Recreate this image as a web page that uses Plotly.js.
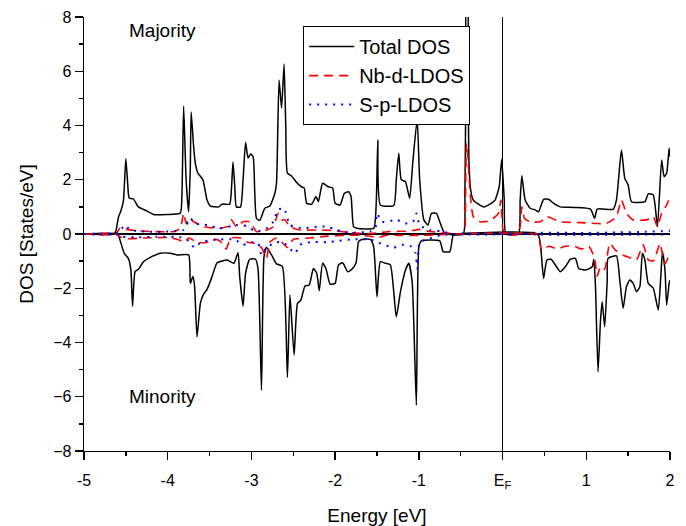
<!DOCTYPE html>
<html>
<head>
<meta charset="utf-8">
<script src="https://cdn.plot.ly/plotly-3.0.1.min.js"></script>
<style>html,body{margin:0;padding:0;background:#fff}#chart{width:686px;height:526px}</style>
</head>
<body>
<div id="chart"></div>
<script>
// Total DOS, majority spin (energy eV, states/eV)
const totUpE = [-5,-4.65,-4.62,-4.59,-4.56,-4.53,-4.50,-4.47,-4.46,-4.41,-4.35,-4.25,-4.17,-4.01,-3.85,-3.83,-3.81,-3.78,-3.75,-3.73,-3.72,-3.69,-3.67,-3.64,-3.58,-3.53,-3.49,-3.39,-3.35,-3.26,-3.24,-3.22,-3.20,-3.18,-3.13,-3.10,-3.07,-3.04,-3.01,-2.98,-2.96,-2.94,-2.90,-2.84,-2.78,-2.72,-2.70,-2.67,-2.64,-2.61,-2.59,-2.57,-2.52,-2.46,-2.40,-2.37,-2.34,-2.28,-2.23,-2.20,-2.15,-2.08,-2.03,-2.00,-1.94,-1.89,-1.84,-1.81,-1.78,-1.74,-1.54,-1.51,-1.49,-1.46,-1.30,-1.27,-1.24,-1.21,-1.16,-1.11,-1.07,-1.02,-0.99,-0.94,-0.89,-0.85,-0.79,-0.75,-0.69,-0.47,-0.45,-0.44,-0.43,-0.42,-0.41,-0.40,-0.38,-0.35,-0.23,-0.15,-0.09,-0.04,-0.01,0.02,0.04,0.19,0.21,0.23,0.27,0.33,0.39,0.43,0.49,0.55,0.61,0.69,0.85,1.05,1.10,1.13,1.32,1.36,1.42,1.46,1.50,1.54,1.70,1.74,1.80,1.85,1.90,1.93,1.96,1.99,2.00];
const totUp  = [0,0,0.1,0.6,0.85,1.2,2.77,1.5,1.33,1.29,1.0,0.85,0.72,0.72,0.77,1.5,4.72,2.0,0.82,2.5,4.5,3.2,2.6,2.25,2.0,1.25,1.03,1.0,1.1,1.1,1.6,2.65,1.8,1.0,1.0,2.0,3.38,2.8,2.95,2.85,1.5,0.58,0.5,0.95,1.03,1.5,1.9,5.68,4.64,6.27,4.0,2.24,2.14,1.9,1.74,1.7,1.13,1.1,1.38,1.2,1.87,1.74,1.7,1.13,1.07,1.5,1.56,1.38,0.27,0.21,0.21,1.07,3.47,1.07,1.05,2.0,2.98,2.0,1.93,1.32,2.73,4.23,2.0,0.52,0.33,0.76,0.76,0.45,0.02,0,1.5,5.0,9.0,9.0,5.0,2.5,1.6,1.25,1.0,1.1,1.25,1.75,2.76,1.25,0,0,1.25,2.15,1.25,0.95,0.89,0.82,1.28,1.28,1.13,1.0,0.98,0.92,0.58,0.92,0.91,1.25,3.1,2.05,1.81,1.19,1.19,1.48,1.44,0.27,2.73,2.11,2.24,3.16,2.85];

// Total DOS, minority spin
const totDnE = [-5,-4.60,-4.57,-4.52,-4.47,-4.44,-4.42,-4.39,-4.35,-4.29,-4.23,-4.09,-3.97,-3.89,-3.75,-3.73,-3.70,-3.68,-3.65,-3.61,-3.57,-3.53,-3.47,-3.41,-3.29,-3.21,-3.16,-3.14,-3.10,-3.07,-3.02,-2.95,-2.92,-2.88,-2.85,-2.82,-2.76,-2.70,-2.63,-2.57,-2.54,-2.49,-2.45,-2.41,-2.36,-2.31,-2.26,-2.22,-2.19,-2.15,-2.11,-2.06,-2.00,-1.96,-1.91,-1.85,-1.80,-1.75,-1.72,-1.68,-1.58,-1.54,-1.50,-1.46,-1.40,-1.34,-1.27,-1.22,-1.16,-1.12,-1.08,-1.03,-1.00,-0.97,-0.75,-0.71,-0.63,-0.59,-0.55,0.42,0.46,0.49,0.53,0.58,0.63,0.69,0.75,0.81,0.87,0.91,0.99,1.07,1.09,1.11,1.14,1.17,1.19,1.22,1.25,1.26,1.36,1.40,1.44,1.48,1.52,1.56,1.60,1.64,1.67,1.70,1.74,1.80,1.86,1.89,1.91,1.94,1.96,1.99,2.00];
const totDn  = [0,0,-0.22,-0.71,-0.9,-1.33,-2.66,-1.39,-1.3,-1.02,-0.9,-0.71,-0.71,-0.77,-0.77,-1.82,-1.57,-1.88,-3.79,-2.56,-2.21,-2.04,-1.57,-1.06,-0.96,-1.08,-0.69,-1.57,-2.66,-1.45,-0.93,-0.93,-1.33,-5.76,-0.84,-0.49,-0.77,-1.1,-1.2,-5.29,-2.25,-4.46,-2.56,-2.44,-1.92,-1.88,-1.27,-1.45,-2.09,-1.08,-1.27,-1.85,-1.82,-1.14,-1.06,-1.39,-1.3,-1.06,-0.28,-0.2,-0.2,-0.47,-2.31,-1.02,-1.08,-1.14,-3.05,-2.13,-1.33,-1.08,-1.76,-6.31,-0.47,-0.25,-0.25,-0.65,-0.65,-0.04,0,0,-0.65,-1.64,-0.96,-0.93,-1.14,-1.39,-1.21,-0.93,-0.9,-1.27,-1.33,-1.21,-0.93,-1.94,-5.08,-3.17,-2.5,-3.42,-1.7,-0.9,-0.81,-1.7,-2.74,-1.94,-1.7,-1.82,-2.13,-1.94,-0.71,-0.96,-1.82,-2.0,-2.8,-1.57,-0.65,-1.33,-2.62,-1.82,-1.7];

// Nb-d LDOS, majority
const nbUpE = [-5,-4.62,-4.57,-4.49,-4.37,-4.17,-3.93,-3.85,-3.81,-3.78,-3.74,-3.69,-3.57,-3.41,-3.29,-3.24,-3.18,-3.10,-3.02,-2.94,-2.82,-2.74,-2.68,-2.64,-2.60,-2.54,-2.42,-2.18,-2.00,-1.82,-1.58,-1.34,-1.10,-0.99,-0.87,-0.71,-0.50,-0.46,-0.44,-0.43,-0.40,-0.38,-0.35,-0.27,-0.15,-0.05,-0.02,0.00,0.02,0.19,0.23,0.26,0.33,0.45,0.53,0.69,0.93,1.24,1.36,1.42,1.48,1.56,1.72,1.80,1.85,1.90,1.96,2.00];
const nbUp  = [0,0,0.22,0.17,0.12,0.09,0.09,0.21,0.76,0.39,0.58,0.45,0.27,0.21,0.27,0.52,0.27,0.45,0.45,0.09,0.15,0.27,0.76,0.52,0.52,0.27,0.15,0.15,0.12,0.05,0.02,0.09,0.11,0.17,0.09,0.05,0,0,2.0,3.35,2.11,1.25,0.64,0.45,0.49,0.76,1.25,0.27,0,0,1.0,0.58,0.45,0.45,0.64,0.45,0.42,0.39,0.64,1.25,0.76,0.52,0.52,0.64,0.27,0.76,1.07,1.38];

// Nb-d LDOS, minority
const nbDnE = [-5,-4.62,-4.57,-4.50,-4.30,-4.00,-3.88,-3.80,-3.75,-3.65,-3.55,-3.45,-3.38,-3.30,-3.25,-3.12,-3.05,-2.95,-2.88,-2.82,-2.78,-2.70,-2.62,-2.57,-2.50,-2.30,-2.10,-1.90,-1.70,-1.55,-1.50,-1.40,-1.20,-1.00,-0.75,-0.60,0.40,0.43,0.47,0.55,0.65,0.75,0.85,0.95,1.03,1.10,1.13,1.17,1.22,1.28,1.35,1.42,1.50,1.60,1.68,1.74,1.80,1.85,1.88,1.94,2.00];
const nbDn  = [0,0,-0.1,-0.17,-0.15,-0.13,-0.2,-0.3,-0.15,-0.3,-0.32,-0.2,-0.25,-0.55,-0.15,-0.15,-0.3,-0.35,-0.5,-0.9,-0.3,-0.15,-0.35,-0.5,-0.2,-0.15,-0.08,-0.05,-0.05,-0.1,-0.15,-0.05,-0.05,-0.05,-0.03,0,0,-0.1,-0.6,-0.45,-0.55,-0.45,-0.45,-0.55,-0.45,-0.9,-1.55,-1.2,-1.3,-0.35,-0.6,-0.75,-0.85,-0.95,-0.4,-0.95,-1.0,-0.6,-0.35,-1.1,-0.7];

// S-p LDOS, majority
const spUpE = [-5,-4.62,-4.55,-4.51,-4.45,-4.25,-4.00,-3.81,-3.73,-3.67,-3.53,-3.38,-3.18,-3.10,-3.05,-2.94,-2.82,-2.74,-2.68,-2.61,-2.54,-2.38,-2.22,-2.10,-1.98,-1.82,-1.58,-1.52,-1.50,-1.44,-1.26,-1.18,-1.07,-1.03,-0.99,-0.87,-0.71,-0.60,0.20,0.30,1.00,1.40,1.70,2.00];
const spUp  = [0,0,0.2,0.33,0.15,0.09,0.09,0.15,0.58,0.39,0.33,0.21,0.33,0.33,0.27,0.09,0.21,0.45,0.89,0.95,0.33,0.21,0.27,0.27,0.15,0.05,0.09,0.2,0.76,0.45,0.52,0.39,0.45,0.76,0.33,0.15,0.09,0,0,0.04,0.04,0.06,0.08,0.12];

// S-p LDOS, minority
const spDnE = [-5,-4.62,-4.55,-4.40,-4.10,-3.85,-3.75,-3.68,-3.60,-3.45,-3.20,-3.10,-3.00,-2.92,-2.88,-2.82,-2.70,-2.60,-2.48,-2.42,-2.30,-2.10,-1.95,-1.80,-1.58,-1.50,-1.30,-1.20,-1.10,-1.04,-1.02,-0.99,-0.90,-0.75,-0.60,0.30,0.40,2.00];
const spDn  = [0,0,-0.1,-0.12,-0.1,-0.12,-0.25,-0.5,-0.3,-0.22,-0.2,-0.4,-0.3,-0.35,-0.77,-0.5,-0.3,-0.35,-0.71,-0.4,-0.3,-0.3,-0.25,-0.2,-0.2,-0.3,-0.5,-0.4,-0.45,-0.7,-1.3,-0.3,-0.2,-0.05,0,0,-0.02,-0.02];

const seriesNames = ['Total DOS', 'Nb-d-LDOS', 'S-p-LDOS'];
const xTickVals = [-5,-4,-3,-2,-1,0,1,2];
const xTickText = ['-5','-4','-3','-2','-1','E<sub>F</sub>','1','2'];
const yTickVals = [-8,-6,-4,-2,0,2,4,6,8];

const FONT = '"Liberation Sans", Arial, sans-serif';
const blackLine = {color:'#000', width:1.5, shape:'spline', smoothing:0.5};
const redLine = {color:'#ff0000', width:1.6, dash:'9px,6px', shape:'spline', smoothing:0.5};
const blueLine = {color:'#0000ff', width:2, dash:'2px,6px', shape:'spline', smoothing:0.5};

const traces = [
  {x: totUpE, y: totUp, name: seriesNames[0], legendgroup:'t', line: blackLine},
  {x: nbUpE, y: nbUp, name: seriesNames[1], legendgroup:'n', line: redLine},
  {x: spUpE, y: spUp, name: seriesNames[2], legendgroup:'s', line: blueLine},
  {x: totDnE, y: totDn, name: seriesNames[0], legendgroup:'t', showlegend:false, line: blackLine},
  {x: nbDnE, y: nbDn, name: seriesNames[1], legendgroup:'n', showlegend:false, line: redLine},
  {x: spDnE, y: spDn, name: seriesNames[2], legendgroup:'s', showlegend:false, line: blueLine}
].map(t => Object.assign({type:'scatter', mode:'lines', hoverinfo:'skip'}, t));

const layout = {
  width: 686, height: 526,
  margin: {l:84, r:16, t:17, b:75},
  paper_bgcolor:'#fff', plot_bgcolor:'#fff',
  font: {family: FONT, color:'#000', size:16},
  showlegend: true,
  legend: {x:0.374, y:0.979, xanchor:'left', yanchor:'top', bordercolor:'#000', borderwidth:1,
           bgcolor:'#fff', font:{family:FONT, size:20, color:'#000'}, traceorder:'normal',
           itemwidth:45},
  xaxis: {range:[-5,2], showline:true, linecolor:'#000', linewidth:1.3, mirror:false,
          showgrid:false, zeroline:true, zerolinecolor:'#000', zerolinewidth:1.3,
          ticks:'outside', ticklen:8, tickwidth:1.3, tickcolor:'#000',
          tickmode:'array', tickvals:xTickVals, ticktext:xTickText, ticklabelstandoff:6,
          minor:{dtick:0.5, ticks:'outside', ticklen:4, tickwidth:1.3, tickcolor:'#000', showgrid:false},
          tickfont:{size:16}, title:{text:'Energy [eV]', font:{size:19}, standoff:20}},
  yaxis: {range:[-8,8], showline:true, linecolor:'#000', linewidth:1.3, mirror:false,
          showgrid:false, zeroline:true, zerolinecolor:'#000', zerolinewidth:1.3,
          ticks:'outside', ticklen:8, tickwidth:1.3, tickcolor:'#000',
          tickmode:'array', tickvals:yTickVals,
          minor:{dtick:1, ticks:'outside', ticklen:4, tickwidth:1.3, tickcolor:'#000', showgrid:false},
          tickfont:{size:16}, title:{text:'DOS [States/eV]', font:{size:19}, standoff:14}},
  annotations: [
    {x:-4.49, y:7.5, xref:'x', yref:'y', text:'Majority', showarrow:false, xanchor:'left', yanchor:'middle', font:{size:19}},
    {x:-4.49, y:-5.98, xref:'x', yref:'y', text:'Minority', showarrow:false, xanchor:'left', yanchor:'middle', font:{size:19}}
  ]
};

Plotly.newPlot('chart', traces, layout, {staticPlot:true, displayModeBar:false});
</script>
</body>
</html>
